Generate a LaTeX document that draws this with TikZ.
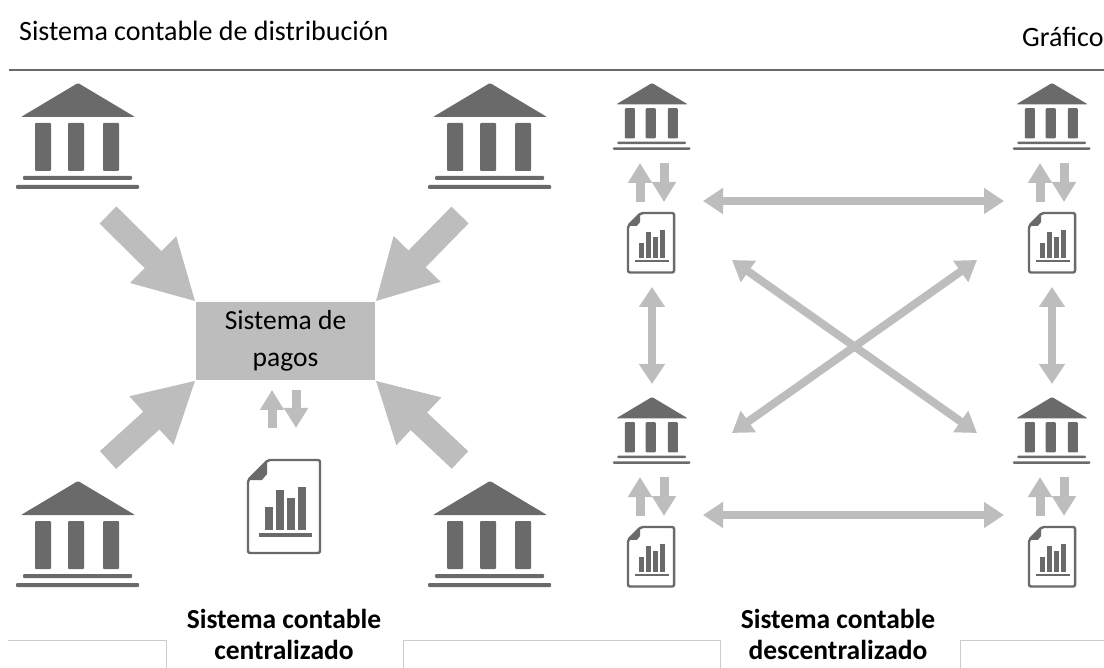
\documentclass[tikz,border=0pt]{standalone}
\usepackage{fontspec}
\setmainfont{Carlito}
\usetikzlibrary{arrows.meta}

\definecolor{darkgris}{HTML}{6A6A6A}
\definecolor{lightgris}{HTML}{BDBDBD}

\tikzset{
    bank/.pic={
        \fill[darkgris,rounded corners=1pt] (0,0) -- (57,34) -- (-57,34) -- cycle;
        \fill[darkgris,rounded corners=1pt] (-43,40) rectangle (-27,88);
        \fill[darkgris,rounded corners=1pt] (-10,40) rectangle (6,88);
        \fill[darkgris,rounded corners=1pt] (25,40) rectangle (41,88);
        \fill[darkgris,rounded corners=1pt] (-55,93) rectangle (54,97);
        \fill[darkgris,rounded corners=1pt] (-62,102) rectangle (61,106);
    },
    report/.pic={
        \draw[darkgris,line width=2.4pt,rounded corners=2pt,fill=white] (0,20) -- (20,0) -- (72,0) -- (72,93) -- (0,93) -- cycle;
        \fill[darkgris] (0,20) -- (19,0) -- (19,14) -- (14,20) -- cycle;
        \fill[darkgris] (17,47) rectangle (25,70);
        \fill[darkgris] (28,30) rectangle (36,70);
        \fill[darkgris] (39,38) rectangle (47,70);
        \fill[darkgris] (50,27) rectangle (58,70);
        \fill[darkgris] (11,73) rectangle (64,77);
    },
    bigarrow/.style={lightgris,line width=24pt,-{Triangle[length=60pt,width=61pt]}},
    updown/.style={lightgris,line width=9pt,-{Triangle[length=20pt,width=23pt]}},
    twoway/.style={lightgris,line width=8pt,{Triangle[length=20pt,width=25pt]}-{Triangle[length=20pt,width=25pt]}},
    paybox/.style={fill=lightgris,minimum width=179pt,minimum height=78pt,inner sep=0pt,align=center,font=\fontsize{27.5}{37}\selectfont},
    caption/.style={align=center,font=\fontsize{27.5}{31}\selectfont\bfseries},
    heading/.style={anchor=base west,inner sep=0pt,font=\fontsize{28}{32}\selectfont},
    faint/.style={gray!40,line width=0.8pt}
}

\begin{document}
\begin{tikzpicture}[x=1pt,y=-1pt]
    \useasboundingbox (0,0) rectangle (1104,668);

    \node[heading] (title) at (19,41) {Sistema contable de distribución};
    \node[heading] (grafico) at (1022,47) {Gráfico};
    \draw[darkgris,line width=2pt] (9,70) -- (1104,70);

    % left side
    \pic at (78,83) {bank};
    \pic at (490,83) {bank};
    \pic at (78,481) {bank};
    \pic at (490,481) {bank};

    \node[paybox] (pagos) at (285.5,341) {Sistema de\\pagos};

    \coordinate (tailNW) at (108,215);
    \coordinate (tailNE) at (460,215);
    \coordinate (tailSW) at (108,460);
    \coordinate (tailSE) at (460,460);
    \draw[bigarrow] (tailNW) -- (pagos.north west);
    \draw[bigarrow] (tailNE) -- (pagos.north east);
    \draw[bigarrow] (tailSW) -- (pagos.south west);
    \draw[bigarrow] (tailSE) -- (pagos.south east);

    \coordinate (upA) at (272,428);
    \coordinate (upB) at (272,390);
    \coordinate (downA) at (296,390);
    \coordinate (downB) at (296,428);
    \draw[updown] (upA) -- (upB);
    \draw[updown] (downA) -- (downB);

    \pic at (248,460) {report};

    % right side
    \pic[scale=.63] at (652,83) {bank};
    \pic[scale=.63] at (1052,83) {bank};
    \pic[scale=.63] at (652,397) {bank};
    \pic[scale=.63] at (1052,397) {bank};

    \pic[scale=.64] at (628,213) {report};
    \pic[scale=.64] at (1029,213) {report};
    \pic[scale=.64] at (628,527) {report};
    \pic[scale=.64] at (1029,527) {report};

    \coordinate (upC) at (640,202);
    \coordinate (upD) at (640,163);
    \coordinate (downC) at (664,163);
    \coordinate (downD) at (664,202);
    \draw[updown] (upC) -- (upD);
    \draw[updown] (downC) -- (downD);

    \coordinate (upE) at (1040,202);
    \coordinate (upF) at (1040,163);
    \coordinate (downE) at (1064,163);
    \coordinate (downF) at (1064,202);
    \draw[updown] (upE) -- (upF);
    \draw[updown] (downE) -- (downF);

    \coordinate (upG) at (640,516);
    \coordinate (upH) at (640,477);
    \coordinate (downG) at (664,477);
    \coordinate (downH) at (664,516);
    \draw[updown] (upG) -- (upH);
    \draw[updown] (downG) -- (downH);

    \coordinate (upI) at (1040,516);
    \coordinate (upJ) at (1040,477);
    \coordinate (downI) at (1064,477);
    \coordinate (downJ) at (1064,516);
    \draw[updown] (upI) -- (upJ);
    \draw[updown] (downI) -- (downJ);

    \coordinate (topL) at (703,201);
    \coordinate (topR) at (1004,201);
    \coordinate (lowL) at (703,515);
    \coordinate (lowR) at (1004,515);
    \coordinate (midLa) at (652,287);
    \coordinate (midLb) at (652,384);
    \coordinate (midRa) at (1052,287);
    \coordinate (midRb) at (1052,384);
    \coordinate (crossA) at (732,260);
    \coordinate (crossB) at (977,433);
    \coordinate (crossC) at (732,433);
    \coordinate (crossD) at (977,260);
    \draw[twoway] (topL) -- (topR);
    \draw[twoway] (lowL) -- (lowR);
    \draw[twoway] (midLa) -- (midLb);
    \draw[twoway] (midRa) -- (midRb);
    \draw[twoway] (crossA) -- (crossB);
    \draw[twoway] (crossC) -- (crossD);

    % strips below the captions
    \draw[faint] (8,640) -- (166,640) -- (166,668);
    \draw[faint] (403,668) -- (403,640) -- (720,640) -- (720,668);
    \draw[faint] (960,668) -- (960,640) -- (1104,640);

    \node[caption] (capL) at (284,634) {Sistema contable\\centralizado};
    \node[caption] (capR) at (838,634) {Sistema contable\\descentralizado};
\end{tikzpicture}
\end{document}
